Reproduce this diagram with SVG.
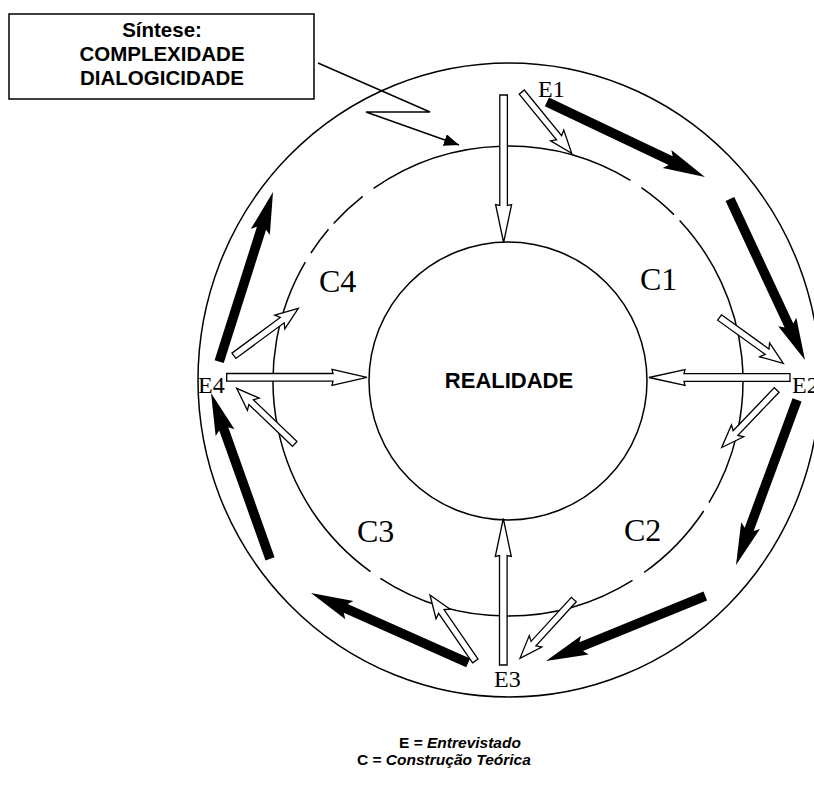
<svg xmlns="http://www.w3.org/2000/svg" width="814" height="785" viewBox="0 0 814 785">
<style>
.ring{fill:none;stroke:#000;stroke-width:1.5}
.blk{fill:#000;stroke:none}
.hol{fill:#fff;stroke:#000;stroke-width:1.3;stroke-linejoin:miter}
.lbE{font-family:"Liberation Serif","Times New Roman",serif;font-size:24px;fill:#000}
.lbC{font-family:"Liberation Serif","Times New Roman",serif;font-size:32px;fill:#000}
.sans{font-family:"Liberation Sans",Arial,sans-serif;font-weight:bold;fill:#000}
.conn{fill:none;stroke:#000;stroke-width:1.5}
</style>
<defs>
<marker id="tri" markerUnits="userSpaceOnUse" markerWidth="16" markerHeight="12" refX="15" refY="6" orient="auto">
<path d="M0,0 L15,6 L0,12 Z" fill="#000"/>
</marker>
</defs>
<rect width="814" height="785" fill="#fff"/>

<g id="rings">
<ellipse id="outer" class="ring" cx="509" cy="380" rx="311" ry="317"/>
<circle id="realidade-circle" class="ring" cx="508" cy="381" r="139"/>
<path id="dashed-circle" class="ring" d="M679.6,220.4 A235,235 0 0 1 709.0,502.7 M703.7,511.0 A235,235 0 0 1 644.1,572.5 M632.5,580.3 A235,235 0 0 1 380.3,578.3 M370.5,571.6 A235,235 0 0 1 305.3,262.1 M310.9,253.0 A235,235 0 0 1 328.5,229.3 M333.6,223.5 A235,235 0 0 1 362.7,196.3 M373.6,188.3 A235,235 0 0 1 630.4,180.4 M641.4,187.6 A235,235 0 0 1 673.9,214.6"/>
</g>

<g id="sintese">
<rect x="9" y="14" width="305" height="85" fill="#fff" stroke="#000" stroke-width="1.5"/>
<text class="sans" font-size="20.5" text-anchor="middle" x="162" y="37">Síntese:</text>
<text class="sans" font-size="20.5" text-anchor="middle" x="162" y="61">COMPLEXIDADE</text>
<text class="sans" font-size="20.5" text-anchor="middle" x="162" y="85">DIALOGICIDADE</text>
</g>

<g id="connectors">
<polyline class="conn" points="318,63 430,112 366,112 459,145" marker-end="url(#tri)"/>
<g id="A1" transform="translate(705,177) rotate(25.4)"><polygon class="blk" points="-175,-4.8 -38,-4.8 -42,-10 0,0 -42,10 -38,4.8 -175,4.8"/></g>
<g id="A2" transform="translate(805,360) rotate(65)"><polygon class="blk" points="-177.6,-4.8 -38,-4.8 -42,-10 0,0 -42,10 -38,4.8 -177.6,4.8"/></g>
<g id="A3" transform="translate(736,565) rotate(110.3)"><polygon class="blk" points="-176,-4.8 -38,-4.8 -42,-10 0,0 -42,10 -38,4.8 -176,4.8"/></g>
<g id="A4" transform="translate(546,661) rotate(157.8)"><polygon class="blk" points="-172,-4.8 -38,-4.8 -42,-10 0,0 -42,10 -38,4.8 -172,4.8"/></g>
<g id="A5" transform="translate(311,593) rotate(204)"><polygon class="blk" points="-172,-4.8 -38,-4.8 -42,-10 0,0 -42,10 -38,4.8 -172,4.8"/></g>
<g id="A6" transform="translate(211,393) rotate(-109.6)"><polygon class="blk" points="-176,-4.8 -38,-4.8 -42,-10 0,0 -42,10 -38,4.8 -176,4.8"/></g>
<g id="A7" transform="translate(273,192) rotate(-72.4)"><polygon class="blk" points="-178,-4.8 -38,-4.8 -42,-10 0,0 -42,10 -38,4.8 -178,4.8"/></g>
<g id="H1" transform="translate(503.6,242.5) rotate(90)"><polygon class="hol" points="-147.5,-3.8 -37,-3.8 -38,-8 0,0 -38,8 -37,3.8 -147.5,3.8"/></g>
<g id="H7" transform="translate(503.3,518.5) rotate(-90)"><polygon class="hol" points="-146.5,-3.8 -37,-3.8 -38,-8 0,0 -38,8 -37,3.8 -146.5,3.8"/></g>
<g id="H4" transform="translate(649,377.5) rotate(180)"><polygon class="hol" points="-141,-3.8 -35,-3.8 -36,-8 0,0 -36,8 -35,3.8 -141,3.8"/></g>
<g id="H10" transform="translate(367,377.3)"><polygon class="hol" points="-140.3,-3.8 -34,-3.8 -35,-8 0,0 -35,8 -34,3.8 -140.3,3.8"/></g>
<g id="H2" transform="translate(571.7,153.3) rotate(50.8)"><polygon class="hol" points="-79,-3.3 -20,-3.3 -23,-8.5 0,0 -23,8.5 -20,3.3 -79,3.3"/></g>
<g id="H3" transform="translate(783.3,363.3) rotate(35.7)"><polygon class="hol" points="-78.5,-3.3 -20,-3.3 -23,-8.5 0,0 -23,8.5 -20,3.3 -78.5,3.3"/></g>
<g id="H5" transform="translate(721.7,447.5) rotate(133.7)"><polygon class="hol" points="-79.6,-3.3 -20,-3.3 -23,-8.5 0,0 -23,8.5 -20,3.3 -79.6,3.3"/></g>
<g id="H6" transform="translate(520,658.3) rotate(132.5)"><polygon class="hol" points="-79.7,-3.3 -20,-3.3 -23,-8.5 0,0 -23,8.5 -20,3.3 -79.7,3.3"/></g>
<g id="H8" transform="translate(430,595) rotate(-124.5)"><polygon class="hol" points="-80,-3.3 -20,-3.3 -23,-8.5 0,0 -23,8.5 -20,3.3 -80,3.3"/></g>
<g id="H9" transform="translate(236.7,388.3) rotate(-136.2)"><polygon class="hol" points="-80.4,-3.3 -20,-3.3 -23,-8.5 0,0 -23,8.5 -20,3.3 -80.4,3.3"/></g>
<g id="H11" transform="translate(298.3,308.3) rotate(-36.4)"><polygon class="hol" points="-80,-3.3 -20,-3.3 -23,-8.5 0,0 -23,8.5 -20,3.3 -80,3.3"/></g>
</g>

<g id="REALIDADE"><text class="sans" font-size="22" text-anchor="middle" x="509" y="388">REALIDADE</text></g>
<g id="E1"><text class="lbE" x="538" y="97">E1</text></g>
<g id="E2"><text class="lbE" x="792" y="393">E2</text></g>
<g id="E3"><text class="lbE" x="494" y="687">E3</text></g>
<g id="E4"><text class="lbE" x="198" y="393">E4</text></g>
<g id="C1"><text class="lbC" x="640" y="290">C1</text></g>
<g id="C2"><text class="lbC" x="624" y="541">C2</text></g>
<g id="C3"><text class="lbC" x="357" y="542">C3</text></g>
<g id="C4"><text class="lbC" x="319" y="292">C4</text></g>

<g id="legend">
<text class="sans" font-size="15.5" x="399" y="748">E = <tspan font-style="italic">Entrevistado</tspan></text>
<text class="sans" font-size="15.5" x="357" y="765">C = <tspan font-style="italic">Construção Teórica</tspan></text>
</g>
</svg>
